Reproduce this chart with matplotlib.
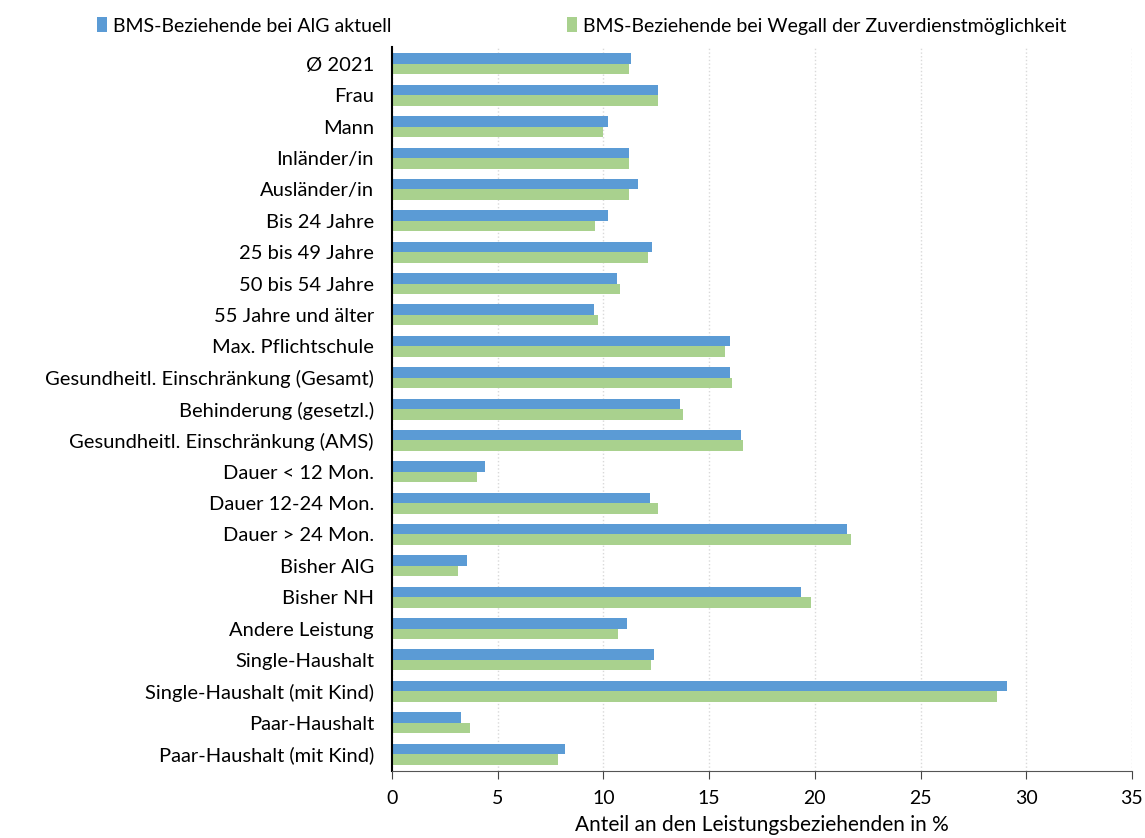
import numpy as np
import matplotlib
matplotlib.use('Agg')
import matplotlib.pyplot as plt

plt.rcParams['font.family'] = ['Lato', 'DejaVu Sans']

categories = ["Ø 2021", "Frau", "Mann", "Inländer/in", "Ausländer/in", "Bis 24 Jahre",
              "25 bis 49 Jahre", "50 bis 54 Jahre", "55 Jahre und älter",
              "Max. Pflichtschule", "Gesundheitl. Einschränkung (Gesamt)",
              "Behinderung (gesetzl.)", "Gesundheitl. Einschränkung (AMS)",
              "Dauer < 12 Mon.", "Dauer 12-24 Mon.", "Dauer > 24 Mon.", "Bisher AlG",
              "Bisher NH", "Andere Leistung", "Single-Haushalt",
              "Single-Haushalt (mit Kind)", "Paar-Haushalt", "Paar-Haushalt (mit Kind)"]
aktuell = [11.3, 12.6, 10.2, 11.2, 11.65, 10.2, 12.3, 10.65, 9.55, 16.0, 16.0, 13.6, 16.5,
           4.4, 12.2, 21.5, 3.55, 19.35, 11.1, 12.4, 29.1, 3.25, 8.2]
wegfall = [11.2, 12.6, 10.0, 11.2, 11.2, 9.6, 12.1, 10.8, 9.75, 15.75, 16.1, 13.75, 16.6,
           4.0, 12.6, 21.7, 3.1, 19.8, 10.7, 12.25, 28.6, 3.7, 7.85]
label_a = "BMS-Beziehende bei AlG aktuell"
label_w = "BMS-Beziehende bei Wegall der Zuverdienstmöglichkeit"

blue = "#5b9bd5"
green = "#a9d18e"

fig = plt.figure(figsize=(11.45, 8.38), dpi=100)
ax = fig.add_axes([0.3424, 0.0803, 0.6462, 0.8636])

y = np.arange(len(categories))
h = 0.335
ax.barh(y - h / 2, aktuell, height=h, color=blue, label=label_a)
ax.barh(y + h / 2, wegfall, height=h, color=green, label=label_w)

ax.set_ylim(len(categories) - 0.47, -0.54)
ax.set_xlim(0, 35)
ax.set_xticks(np.arange(0, 36, 5))
ax.set_yticks(y)
ax.set_yticklabels(categories, fontsize=14.5)
ax.tick_params(axis='y', length=0, pad=13)
ax.tick_params(axis='x', labelsize=14, length=6, direction='out', color='#444444', pad=8)
ax.xaxis.grid(True, linestyle=':', color='#d9d9d9', linewidth=1)
ax.set_axisbelow(True)
for s in ['top', 'right']:
    ax.spines[s].set_visible(False)
ax.spines['left'].set_color('black')
ax.spines['left'].set_linewidth(1.5)
ax.spines['bottom'].set_color('#555555')
ax.set_xlabel("Anteil an den Leistungsbeziehenden in %", fontsize=15, labelpad=6)

fig.legend(loc='upper center', bbox_to_anchor=(0.508, 1.0), ncol=2, frameon=False,
           fontsize=14, handlelength=0.55, handleheight=0.8, handletextpad=0.3,
           columnspacing=9.0)

fig.savefig("out.png", dpi=100)
